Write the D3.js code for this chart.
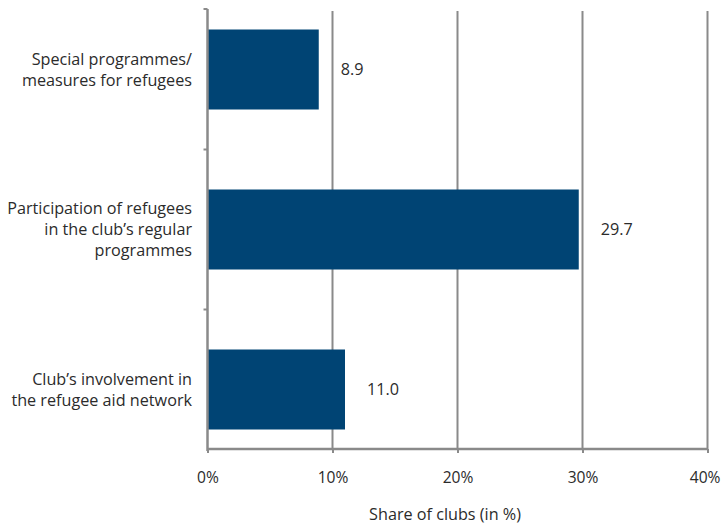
<!DOCTYPE html>
<html>
<head>
<meta charset="utf-8">
<script src="https://cdn.jsdelivr.net/npm/d3@7"></script>
<style>
  html, body { margin: 0; padding: 0; background: #fff; }
  svg text { font-family: "Open Sans", "Noto Sans", sans-serif; fill: #2b2b2b; }
</style>
</head>
<body>
<svg id="chart" width="721" height="527"></svg>
<script>
// Categories (top to bottom), each label split into its display lines
const categories = [
  ["Special programmes/", "measures for refugees"],
  ["Participation of refugees", "in the club\u2019s regular", "programmes"],
  ["Club\u2019s involvement in", "the refugee aid network"]
];
const values = [8.9, 29.7, 11.0];
const xTicks = [0, 10, 20, 30, 40];
const xTitle = "Share of clubs (in %)";

const svg = d3.select("#chart");
const width = 721;
const plot = { left: 207.5, right: 707.5, top: 9, bottom: 449 };
const fontSize = 16.2;

const x = d3.scaleLinear().domain([0, 40]).range([plot.left, plot.right]);
const keys = categories.map((c, i) => i);
const y = d3.scaleBand().domain(keys)
  .range([-10.5, 469.5]).paddingInner(0.5).paddingOuter(0.25);

const gridColor = "#8a8a8a";

// vertical gridlines
svg.append("g").selectAll("line")
  .data(xTicks.filter(t => t > 0))
  .join("line")
  .attr("x1", d => x(d)).attr("x2", d => x(d))
  .attr("y1", plot.top + 2).attr("y2", plot.bottom)
  .attr("stroke", gridColor).attr("stroke-width", 2);

// bars
svg.append("g").selectAll("rect")
  .data(values)
  .join("rect")
  .attr("x", x(0))
  .attr("y", (d, i) => y(i))
  .attr("width", d => x(d) - x(0))
  .attr("height", y.bandwidth())
  .attr("fill", "#004474");

// x axis
const xAxis = svg.append("g").attr("transform", `translate(0,${plot.bottom})`)
  .call(d3.axisBottom(x).tickValues(xTicks).tickFormat(d => d + "%").tickSize(4).tickPadding(19));
xAxis.select(".domain").attr("stroke", gridColor).attr("stroke-width", 2.5)
  .attr("d", `M${plot.left},0H${plot.right}`);
xAxis.selectAll(".tick line").attr("stroke", gridColor).attr("stroke-width", 2);
xAxis.selectAll(".tick text").attr("font-size", 15.6).style("fill", "#2b2b2b");
// keep the last tick label inside the canvas
xAxis.selectAll(".tick").filter(d => d === xTicks[xTicks.length - 1]).select("text")
  .attr("text-anchor", "end").attr("x", width - 1 - x(xTicks[xTicks.length - 1]));

// y axis line with separators between categories
const yAxis = svg.append("g");
yAxis.append("line")
  .attr("x1", plot.left).attr("x2", plot.left)
  .attr("y1", plot.top).attr("y2", plot.bottom + 2)
  .attr("stroke", gridColor).attr("stroke-width", 2.5);
const seps = [plot.top].concat(keys.slice(1).map(i => y(i) - y.step() * y.paddingInner() / 2));
yAxis.selectAll("line.sep").data(seps).join("line").attr("class", "sep")
  .attr("x1", plot.left - 4).attr("x2", plot.left)
  .attr("y1", d => d).attr("y2", d => d)
  .attr("stroke", gridColor).attr("stroke-width", 2);

// category labels
const lineH = 21;
svg.append("g").selectAll("text")
  .data(categories)
  .join("text")
  .attr("text-anchor", "end")
  .attr("font-size", fontSize)
  .each(function(lines, i) {
    const cy = y(i) + y.bandwidth() / 2;
    const y0 = cy - (lines.length - 1) * lineH / 2;
    d3.select(this).selectAll("tspan").data(lines).join("tspan")
      .attr("x", 192)
      .attr("y", (l, j) => y0 + j * lineH)
      .attr("dy", "0.35em")
      .text(l => l);
  });

// value labels
svg.append("g").selectAll("text")
  .data(values)
  .join("text")
  .attr("x", d => x(d) + 22)
  .attr("y", (d, i) => y(i) + y.bandwidth() / 2)
  .attr("dy", "0.35em")
  .attr("font-size", fontSize)
  .text(d => d.toFixed(1));

// axis title
svg.append("text")
  .attr("x", 445).attr("y", 520)
  .attr("text-anchor", "middle")
  .attr("font-size", fontSize)
  .text(xTitle);
</script>
</body>
</html>
